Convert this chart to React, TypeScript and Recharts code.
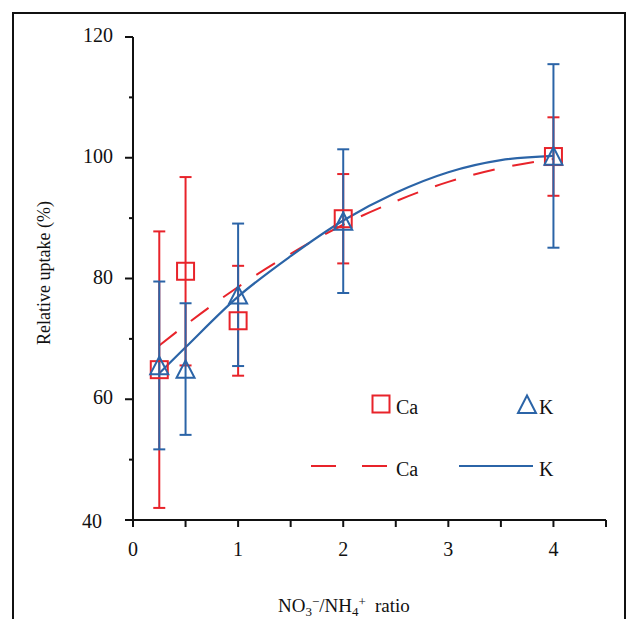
import { ComposedChart, XAxis, YAxis, Line, Scatter, ErrorBar, Label } from 'recharts'

// measured uptake (mean ± sd) at each NO3-/NH4+ ratio
const ratios = [0.25, 0.5, 1, 2, 4]
const caMean = [64.9, 81.2, 73.0, 89.9, 100.2]
const caErr = [22.9, 15.6, 9.1, 7.4, 6.5]
const kMean = [65.6, 65.0, 77.3, 89.5, 100.3]
const kErr = [13.9, 10.9, 11.8, 11.9, 15.2]

// fitted response curves
const fitRatios = [0.25, 0.5, 1, 1.5, 2, 2.5, 3, 3.5, 4]
const caFit = [68.9, 72.3, 78.6, 84.1, 88.9, 92.8, 96.0, 98.3, 99.8]
const kFit = [64.3, 68.6, 77.0, 83.7, 89.6, 94.2, 97.6, 99.6, 100.3]

const xTicks = [0, 0.5, 1, 1.5, 2, 2.5, 3, 3.5, 4, 4.5]
const yTicks = [40, 50, 60, 70, 80, 90, 100, 110, 120]

const RED = '#e8232a'
const BLUE = '#2b64a7'
const INK = '#111'
const FONT = '"Liberation Serif", "Times New Roman", serif'

const caPoints = ratios.map((x, i) => ({ x, y: caMean[i], err: caErr[i] }))
const kPoints = ratios.map((x, i) => ({ x, y: kMean[i], err: kErr[i] }))
const caLine = fitRatios.map((x, i) => ({ x, y: caFit[i] }))
const kLine = fitRatios.map((x, i) => ({ x, y: kFit[i] }))

function Square(props: any) {
  const { cx, cy } = props
  return <rect x={cx - 8.5} y={cy - 8.5} width={17} height={17} fill="none" stroke={RED} strokeWidth={2} />
}

function Triangle(props: any) {
  const { cx, cy } = props
  return (
    <polygon
      points={`${cx},${cy - 8.7} ${cx - 9},${cy + 8.7} ${cx + 9},${cy + 8.7}`}
      fill="none" stroke={BLUE} strokeWidth={2} strokeLinejoin="miter"
    />
  )
}

function YTick(props: any) {
  const { x, y, payload } = props
  const v = payload.value
  const major = v % 20 === 0
  return (
    <g>
      <line x1={x - (major ? 8 : 4)} x2={x} y1={y} y2={y} stroke={INK} strokeWidth={2} />
      {major && (
        <text x={v === 40 ? x - 31 : x - 20} y={v === 40 ? y + 8 : y + 5} textAnchor="end"
          fontFamily={FONT} fontSize={20} fill={INK}>{v}</text>
      )}
    </g>
  )
}

function XTick(props: any) {
  const { x, y, payload } = props
  const v = payload.value
  return (
    <g>
      <line x1={x} x2={x} y1={y} y2={y + 7} stroke={INK} strokeWidth={2} />
      {Number.isInteger(v) && (
        <text x={x} y={y + 36} textAnchor="middle" fontFamily={FONT} fontSize={20} fill={INK}>{v}</text>
      )}
    </g>
  )
}

function XTitle() {
  return (
    <text x={278} y={612} fontFamily={FONT} fontSize={19} fill={INK}>
      <tspan>NO</tspan>
      <tspan dy={4} fontSize={13}>3</tspan>
      <tspan dy={-10} fontSize={13}>−</tspan>
      <tspan dy={6}>/NH</tspan>
      <tspan dy={4} fontSize={13}>4</tspan>
      <tspan dy={-10} fontSize={13}>+</tspan>
      <tspan dy={6} dx={9}>ratio</tspan>
    </text>
  )
}

function YTitle() {
  return (
    <text x={0} y={0} transform="translate(50 273) rotate(-90)" textAnchor="middle"
      fontFamily={FONT} fontSize={18} fill={INK}>Relative uptake (%)</text>
  )
}

function KeyBox() {
  return (
    <svg width={629} height={619} style={{ position: 'absolute', left: 0, top: 0, pointerEvents: 'none' }}>
      <g fontFamily={FONT} fontSize={20} fill={INK}>
        <rect x={372.5} y={395.5} width={17} height={17} fill="none" stroke={RED} strokeWidth={2} />
        <text x={396} y={414}>Ca</text>
        <polygon points="527,395.5 518,413 536,413" fill="none" stroke={BLUE} strokeWidth={2} />
        <text x={539} y={414}>K</text>
        <line x1={311} x2={388} y1={466} y2={466} stroke={RED} strokeWidth={2} strokeDasharray="25 26" />
        <text x={396} y={476}>Ca</text>
        <line x1={459} x2={533} y1={466} y2={466} stroke={BLUE} strokeWidth={2} />
        <text x={539} y={476}>K</text>
      </g>
    </svg>
  )
}

export default function App() {
  return (
    <div style={{ position: 'absolute', left: 0, top: 0, width: 629, height: 619, overflow: 'hidden', background: '#fff' }}>
      <div style={{ position: 'absolute', left: 12, top: 12, width: 614, height: 700, boxSizing: 'border-box', border: `2px solid ${INK}` }} />
      <ComposedChart width={629} height={619} margin={{ top: 37, right: 23, bottom: 39, left: 0 }}>
        <XAxis
          dataKey="x" type="number" domain={[0, 4.5]} ticks={xTicks} interval={0}
          height={60} tickSize={0} tickMargin={0} tickLine={false}
          axisLine={{ stroke: INK, strokeWidth: 2 }} tick={<XTick />}
        >
          <Label content={<XTitle />} />
        </XAxis>
        <YAxis
          type="number" domain={[40, 120]} ticks={yTicks} interval={0}
          width={133} tickSize={0} tickMargin={0} tickLine={false}
          axisLine={{ stroke: INK, strokeWidth: 2 }} tick={<YTick />}
        >
          <Label content={<YTitle />} />
        </YAxis>
        <Line data={caLine} dataKey="y" type="monotone" stroke={RED} strokeWidth={2}
          strokeDasharray="22 18" dot={false} activeDot={false} isAnimationActive={false} />
        <Line data={kLine} dataKey="y" type="monotone" stroke={BLUE} strokeWidth={2.2}
          dot={false} activeDot={false} isAnimationActive={false} />
        <Scatter data={caPoints} dataKey="y" shape={<Square />} isAnimationActive={false}>
          <ErrorBar dataKey="err" direction="y" width={6} stroke={RED} strokeWidth={2} isAnimationActive={false} />
        </Scatter>
        <Scatter data={kPoints} dataKey="y" shape={<Triangle />} isAnimationActive={false}>
          <ErrorBar dataKey="err" direction="y" width={6} stroke={BLUE} strokeWidth={2} isAnimationActive={false} />
        </Scatter>
      </ComposedChart>
      <KeyBox />
    </div>
  )
}
